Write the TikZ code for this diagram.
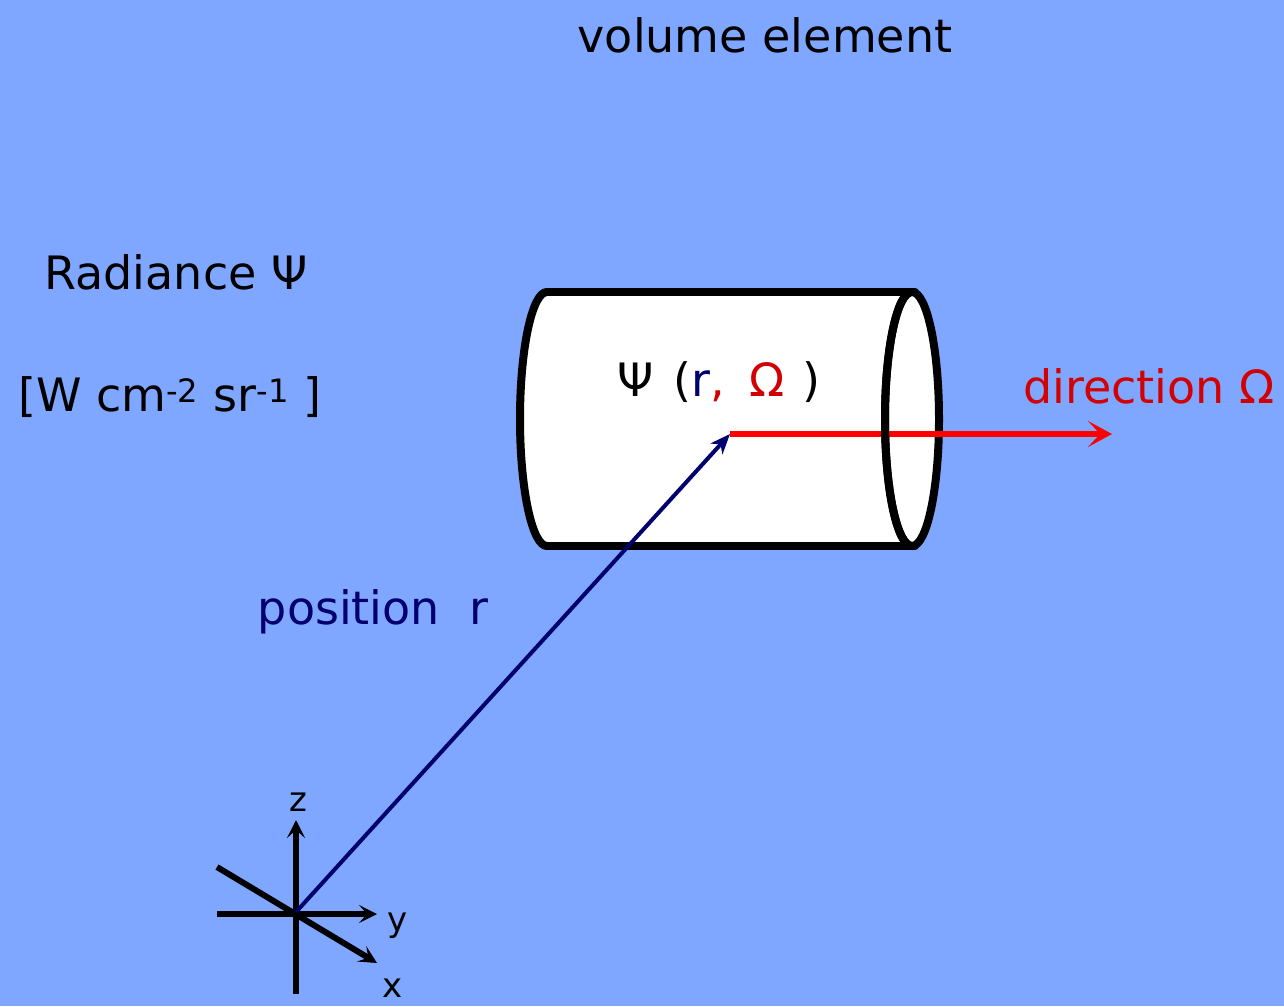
\documentclass[tikz,border=0pt]{standalone}
\usepackage{fontspec}
\setmainfont{DejaVu Sans}
\usetikzlibrary{arrows.meta}
\definecolor{bg}{RGB}{127,167,255}
\definecolor{navyc}{RGB}{0,0,110}
\definecolor{redtxt}{RGB}{210,0,0}
\definecolor{redline}{RGB}{255,0,0}
\begin{document}
\begin{tikzpicture}[x=1pt,y=-1pt,
  lbl/.style={inner sep=0pt, font=\fontsize{46}{54}\selectfont},
  cyl/.style={line width=8pt, black, line cap=round},
  axis/.style={line width=6pt, black, -{Stealth[length=18pt,width=18pt,inset=8pt,line width=1pt]}},
  axlbl/.style={inner sep=0pt, font=\fontsize{34}{40}\selectfont}]
\fill[bg] (0,0) rectangle (1284,1006);
\useasboundingbox (0,0) rectangle (1284,1006);
% title
\node[lbl] (title) at (765,35) {volume element};
\node[lbl] (rad) at (176,272) {Radiance Ψ};
\node[lbl, anchor=west] (unit) at (18,397) {[W cm\textsuperscript{-2} sr\textsuperscript{-1} ]};
% cylinder fill
\fill[white] (547,292) -- (912,292) arc[start angle=-90,end angle=90,x radius=27,y radius=127]
  -- (547,546) arc[start angle=90,end angle=270,x radius=27,y radius=127] -- cycle;
\draw[cyl] (547,292) -- (915,292);
\draw[cyl] (547,546) -- (915,546);
\draw[cyl] (547,292) arc[start angle=-90,end angle=-270,x radius=27,y radius=127];
\draw[cyl] (912,419) ellipse[x radius=27,y radius=127];
\node[lbl] (psi) at (719,382) {Ψ\hspace{20pt}(\textcolor{navyc}{r}\textcolor{redtxt}{,\hspace{24pt}Ω}\hspace{18pt})};
% coordinates
\coordinate (O) at (296,912);
\coordinate (P) at (730,434);
\coordinate (D) at (1112,434);
\coordinate (zt) at (296,820);
\coordinate (zb) at (296,994);
\coordinate (yl) at (217,914);
\coordinate (yt) at (377,914);
\coordinate (xl) at (217,867);
\coordinate (xt) at (377,963);
% direction arrow
\draw[redline, line width=6pt, -{Stealth[length=24pt,width=26pt,inset=12pt]}] (P) -- (D);
\draw[cyl] (912,292) arc[start angle=-90,end angle=-270,x radius=27,y radius=127];
\node[lbl, text=redtxt] (dir) at (1149,386) {direction Ω};
% axes
\draw[line width=6pt] (zb) -- (296,840);
\draw[axis] (296,900) -- (zt);
\draw[axis] (yl) -- (yt);
\draw[axis] (xl) -- (xt);
\node[axlbl] (zl) at (298,802) {z};
\node[axlbl] (ylab) at (398,926) {y};
\node[axlbl] (xlab) at (393,988) {x};
% position arrow
\draw[navyc, line width=4pt, -{Stealth[length=20pt,width=16pt,inset=6pt]}] (O) -- (P);
\node[lbl, text=navyc] (pos) at (373,612) {position\ \ r};
\end{tikzpicture}
\end{document}
